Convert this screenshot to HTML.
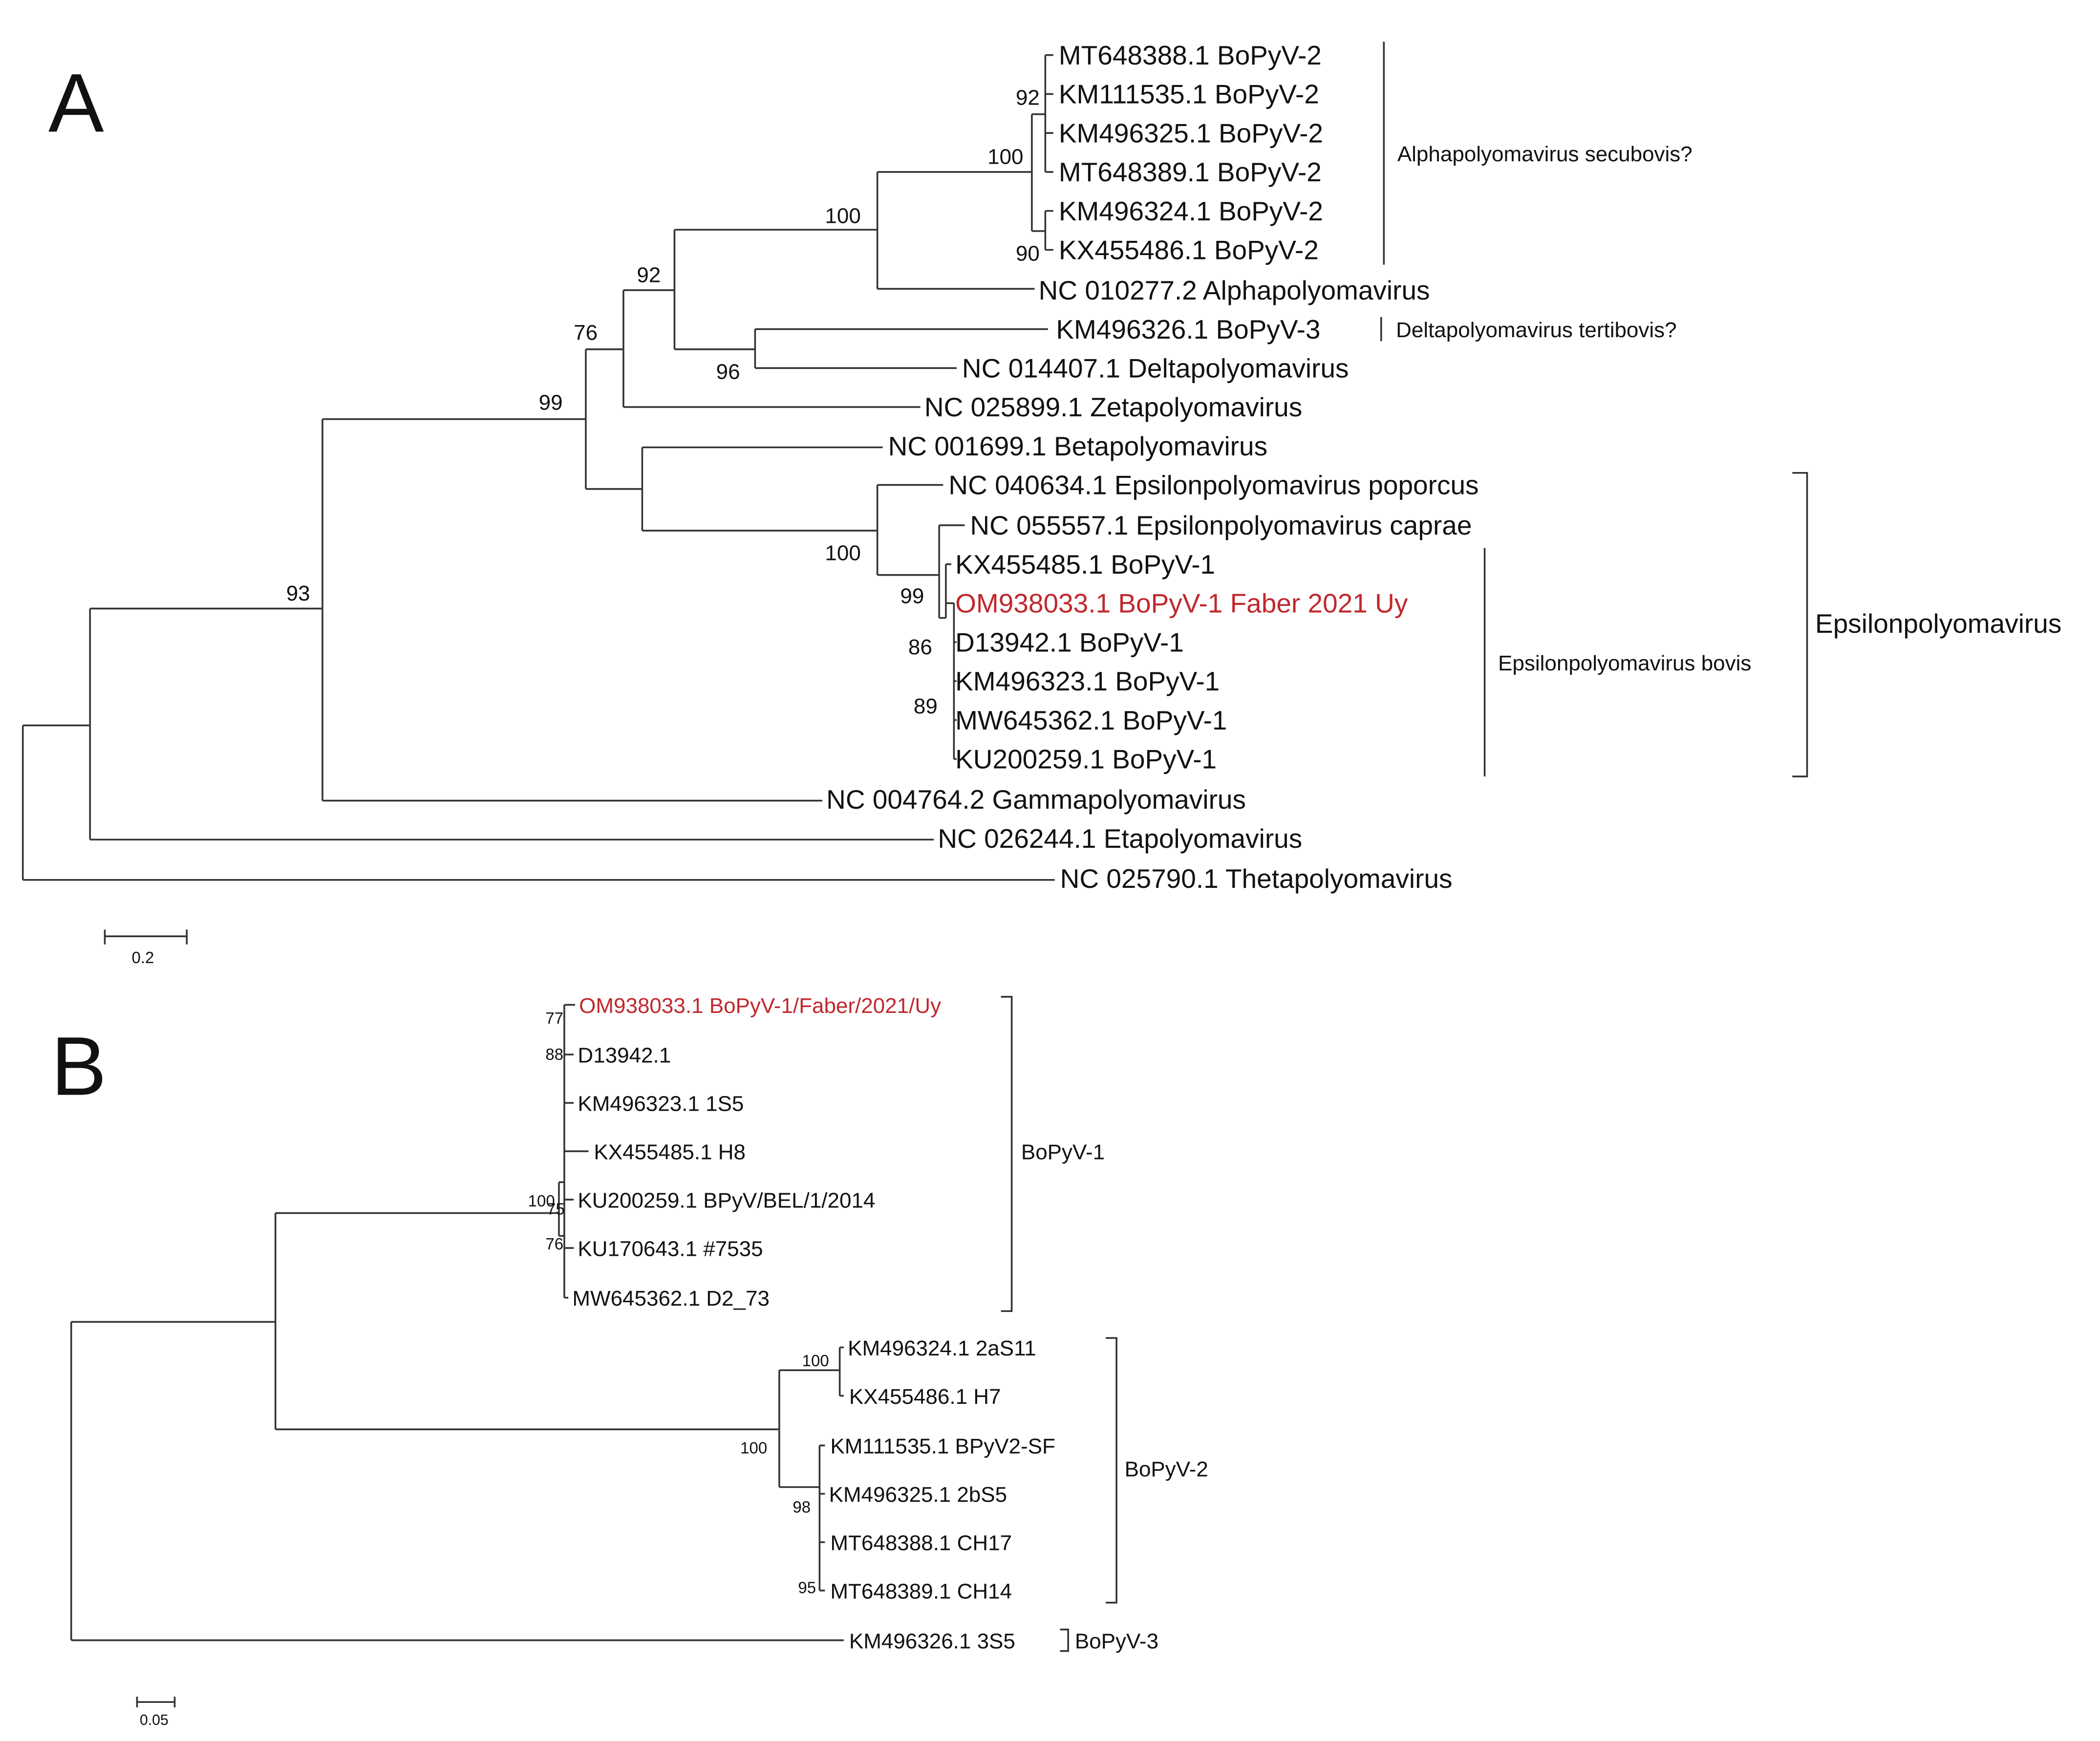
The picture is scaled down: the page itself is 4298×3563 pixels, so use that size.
<!DOCTYPE html>
<html><head><meta charset="utf-8"><style>
html,body{margin:0;padding:0;background:#fff;}
svg{display:block;}
text{font-family:"Liberation Sans",Arial,sans-serif;fill:#111;}
.l{font-size:20px;}
.b{font-size:16px;}
.s{font-size:16px;}
.r{fill:#c0282d;}
</style></head><body>
<svg width="4298" height="3563" viewBox="0 0 1563 1296" preserveAspectRatio="none" xmlns="http://www.w3.org/2000/svg">
<g stroke="#333" stroke-width="1.3" fill="none">
<!-- Tree A -->
<path d="M17 540V655M17 540H67M17 655H785"/>
<path d="M67 453V625M67 453H240M67 625H695"/>
<path d="M240 312V596M240 312H436M240 596H612"/>
<path d="M436 260V364M436 260H464M436 364H478"/>
<path d="M464 216V303M464 216H502M464 303H685"/>
<path d="M502 171V260M502 171H653M502 260H562"/>
<path d="M653 128V215M653 128H768M653 215H770"/>
<path d="M768 85V172M768 85H778M768 172H778"/>
<path d="M778 41V128M778 41H784M778 70H784M778 99H784M778 128H784"/>
<path d="M778 157V186M778 157H784M778 186H784"/>
<path d="M562 245V274M562 245H780M562 274H712"/>
<path d="M478 333V395M478 333H657M478 395H653"/>
<path d="M653 361V428M653 361H702M653 428H699"/>
<path d="M699 391V460M699 391H718M699 460H704"/>
<path d="M704 420V460M704 420H708M704 449H710"/>
<path d="M710 449V565M710 478H712M710 507H712M710 536H712M710 565H712"/>
<!-- brackets A -->
<path d="M1030 31V197M1028 236V254M1105 408V578M1334 352H1345V578H1334"/>
<!-- scale A -->
<path d="M78 697H139M78 692V703M139 692V703"/>
<!-- Tree B -->
<path d="M53 984V1221M53 984H205M53 1221H628"/>
<path d="M205 903V1064M205 903H416M205 1064H580"/>
<path d="M416 880V920M416 880H420M416 920H420"/>
<path d="M420 748V966M420 748H428M420 785H427M420 821H427M420 857H438M420 893H427M420 929H427M420 966H423"/>
<path d="M580 1020V1107M580 1020H625M580 1107H610"/>
<path d="M625 1003V1039M625 1003H628M625 1039H628"/>
<path d="M610 1076V1184M610 1076H614M610 1112H614M610 1148H614M610 1184H614"/>
<path d="M745 742H753V976H745M823 996H831V1193H823M789 1213H795V1229H789"/>
<path d="M102 1267H130M102 1263V1271M130 1263V1271"/>
</g>
<!-- Labels A -->
<text x="36" y="98" style="font-size:62px">A</text>
<g class="l">
<text x="788" y="48">MT648388.1 BoPyV-2</text>
<text x="788" y="77">KM111535.1 BoPyV-2</text>
<text x="788" y="106">KM496325.1 BoPyV-2</text>
<text x="788" y="135">MT648389.1 BoPyV-2</text>
<text x="788" y="164">KM496324.1 BoPyV-2</text>
<text x="788" y="193">KX455486.1 BoPyV-2</text>
<text x="773" y="223">NC 010277.2 Alphapolyomavirus</text>
<text x="786" y="252">KM496326.1 BoPyV-3</text>
<text x="716" y="281">NC 014407.1 Deltapolyomavirus</text>
<text x="688" y="310">NC 025899.1 Zetapolyomavirus</text>
<text x="661" y="339">NC 001699.1 Betapolyomavirus</text>
<text x="706" y="368">NC 040634.1 Epsilonpolyomavirus poporcus</text>
<text x="722" y="398">NC 055557.1 Epsilonpolyomavirus caprae</text>
<text x="711" y="427">KX455485.1 BoPyV-1</text>
<text x="711" y="456" class="r">OM938033.1 BoPyV-1 Faber 2021 Uy</text>
<text x="711" y="485">D13942.1 BoPyV-1</text>
<text x="711" y="514">KM496323.1 BoPyV-1</text>
<text x="711" y="543">MW645362.1 BoPyV-1</text>
<text x="711" y="572">KU200259.1 BoPyV-1</text>
<text x="615" y="602">NC 004764.2 Gammapolyomavirus</text>
<text x="698" y="631">NC 026244.1 Etapolyomavirus</text>
<text x="789" y="661">NC 025790.1 Thetapolyomavirus</text>
<text x="1351" y="471">Epsilonpolyomavirus</text>
</g>
<g class="s">
<text x="756" y="78">92</text>
<text x="735" y="122">100</text>
<text x="756" y="194">90</text>
<text x="614" y="166">100</text>
<text x="474" y="210">92</text>
<text x="427" y="253">76</text>
<text x="533" y="282">96</text>
<text x="401" y="305">99</text>
<text x="213" y="447">93</text>
<text x="614" y="417">100</text>
<text x="670" y="449">99</text>
<text x="676" y="487">86</text>
<text x="680" y="531">89</text>
<text x="1040" y="120">Alphapolyomavirus secubovis?</text>
<text x="1039" y="251">Deltapolyomavirus tertibovis?</text>
<text x="1115" y="499">Epsilonpolyomavirus bovis</text>
</g>
<text x="98" y="717" style="font-size:12px">0.2</text>
<!-- Labels B -->
<text x="38" y="815" style="font-size:62px">B</text>
<g class="b">
<text x="431" y="754" class="r">OM938033.1 BoPyV-1/Faber/2021/Uy</text>
<text x="430" y="791">D13942.1</text>
<text x="430" y="827">KM496323.1 1S5</text>
<text x="442" y="863">KX455485.1 H8</text>
<text x="430" y="899">KU200259.1 BPyV/BEL/1/2014</text>
<text x="430" y="935">KU170643.1 #7535</text>
<text x="426" y="972">MW645362.1 D2_73</text>
<text x="631" y="1009">KM496324.1 2aS11</text>
<text x="632" y="1045">KX455486.1 H7</text>
<text x="618" y="1082">KM111535.1 BPyV2-SF</text>
<text x="617" y="1118">KM496325.1 2bS5</text>
<text x="618" y="1154">MT648388.1 CH17</text>
<text x="618" y="1190">MT648389.1 CH14</text>
<text x="632" y="1227">KM496326.1 3S5</text>
<text x="760" y="863">BoPyV-1</text>
<text x="837" y="1099">BoPyV-2</text>
<text x="800" y="1227">BoPyV-3</text>
</g>
<g style="font-size:12px">
<text x="406" y="762">77</text>
<text x="406" y="789">88</text>
<text x="393" y="898">100</text>
<text x="407" y="904">75</text>
<text x="406" y="930">76</text>
<text x="597" y="1017">100</text>
<text x="551" y="1082">100</text>
<text x="590" y="1126">98</text>
<text x="594" y="1186">95</text>
</g>
<text x="104" y="1284" style="font-size:11px">0.05</text>
</svg>
</body></html>
